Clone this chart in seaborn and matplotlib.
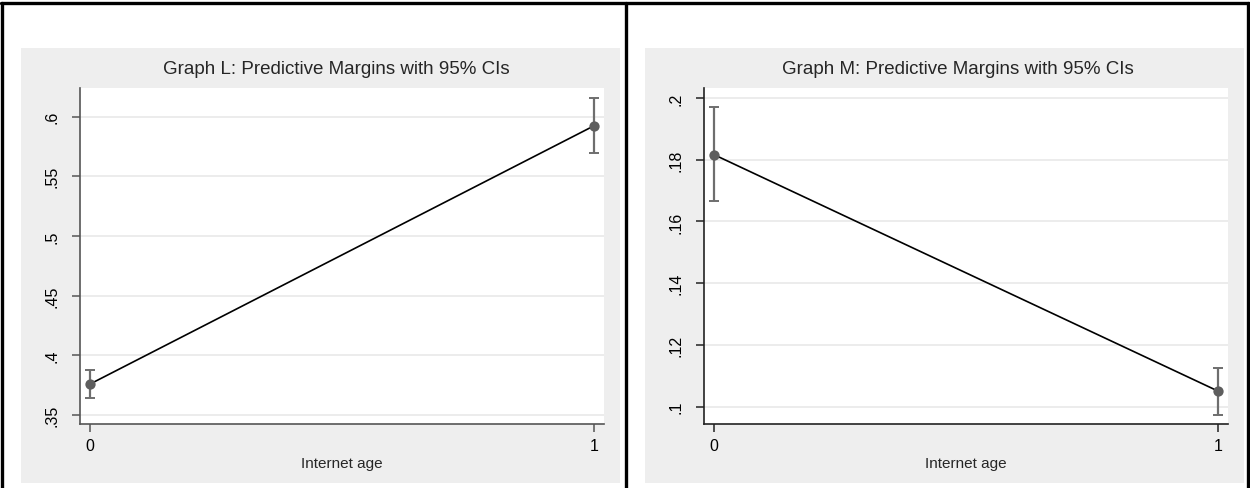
import matplotlib
matplotlib.use("Agg")
import matplotlib.pyplot as plt
import seaborn as sns
import pandas as pd
from matplotlib.patches import Rectangle
from matplotlib.lines import Line2D

# ---- data ----
internet_age = [0, 1]
margin_L = [0.376, 0.5925]
ci_low_L = [0.3645, 0.5696]
ci_high_L = [0.3877, 0.6159]
yticks_L = [0.35, 0.40, 0.45, 0.50, 0.55, 0.60]
yticklabels_L = [".35", ".4", ".45", ".5", ".55", ".6"]

margin_M = [0.1816, 0.105]
ci_low_M = [0.1667, 0.0974]
ci_high_M = [0.197, 0.1125]
yticks_M = [0.10, 0.12, 0.14, 0.16, 0.18, 0.20]
yticklabels_M = [".1", ".12", ".14", ".16", ".18", ".2"]

title_L = "Graph L: Predictive Margins with 95% CIs"
title_M = "Graph M: Predictive Margins with 95% CIs"
xlabel = "Internet age"

sns.set_style("white")
plt.rcParams['font.family'] = ['Liberation Sans', 'DejaVu Sans']

W, H = 1250, 489
fig = plt.figure(figsize=(W / 100, H / 100), dpi=100)
fig.patch.set_facecolor("white")

def fx(px):
    return px / W

def fy(py):
    return 1 - py / H

# gray graph regions
for (x0, x1) in [(21, 620), (645, 1244)]:
    fig.add_artist(Rectangle((fx(x0), fy(484)), fx(x1) - fx(x0), fy(49) - fy(484),
                             transform=fig.transFigure, facecolor="#eeeeee",
                             edgecolor="none", zorder=0))

# black frame lines
lw = 2.4
fig.add_artist(Line2D([fx(1), fx(1249)], [fy(4), fy(4)], color="black", lw=lw, transform=fig.transFigure))
for xp in [2, 626, 1247.5]:
    fig.add_artist(Line2D([fx(xp), fx(xp)], [fy(4), fy(489)], color="black", lw=lw, transform=fig.transFigure))

panels = [
    dict(box=(80, 604), margin=margin_L, lo=ci_low_L, hi=ci_high_L, yt=yticks_L, ytl=yticklabels_L,
         ylim=(0.3425, 0.624), title=title_L, title_x=336, spine="#555555"),
    dict(box=(704, 1228), margin=margin_M, lo=ci_low_M, hi=ci_high_M, yt=yticks_M, ytl=yticklabels_M,
         ylim=(0.0944, 0.2032), title=title_M, title_x=958, spine="#222222"),
]

for p in panels:
    x0, x1 = p["box"]
    ax = fig.add_axes([fx(x0), fy(425), fx(x1) - fx(x0), fy(89) - fy(425)])
    ax.set_facecolor("white")
    df = pd.DataFrame({"x": internet_age, "y": p["margin"]})
    # CI bars
    yerr = [[m - l for m, l in zip(p["margin"], p["lo"])],
            [h - m for m, h in zip(p["margin"], p["hi"])]]
    ax.errorbar(internet_age, p["margin"], yerr=yerr, fmt="none", ecolor="#6e6e6e",
                elinewidth=1.6, capsize=3.5, capthick=1.4, zorder=3)
    sns.lineplot(data=df, x="x", y="y", ax=ax, color="black", lw=1.2, zorder=4)
    sns.scatterplot(data=df, x="x", y="y", ax=ax, color="#5e5e5e", s=55,
                    edgecolor="#5e5e5e", linewidth=0, zorder=5)
    ax.set_xlim(-0.02, 1.019)
    ax.set_ylim(*p["ylim"])
    ax.set_xticks([0, 1])
    ax.set_xticklabels(["0", "1"])
    ax.set_yticks(p["yt"])
    ax.set_yticklabels(p["ytl"], rotation=90, va="center")
    ax.yaxis.grid(True, color="#ebebeb", lw=1.3)
    ax.xaxis.grid(False)
    for s in ["top", "right"]:
        ax.spines[s].set_visible(False)
    for s in ["left", "bottom"]:
        ax.spines[s].set_color(p["spine"])
        ax.spines[s].set_linewidth(1.2)
    ax.tick_params(axis="both", direction="out", length=6, width=1.1, color=p["spine"],
                   labelsize=11.5, labelcolor="black", pad=4, left=True, bottom=True)
    ax.tick_params(axis="y", pad=9)
    ax.set_xlabel(xlabel, fontsize=11, labelpad=2)
    ax.set_ylabel("")
    fig.text(fx(p["title_x"]), fy(70), p["title"], ha="center", va="center", fontsize=13.5)

fig.savefig("out.png", dpi=100)
